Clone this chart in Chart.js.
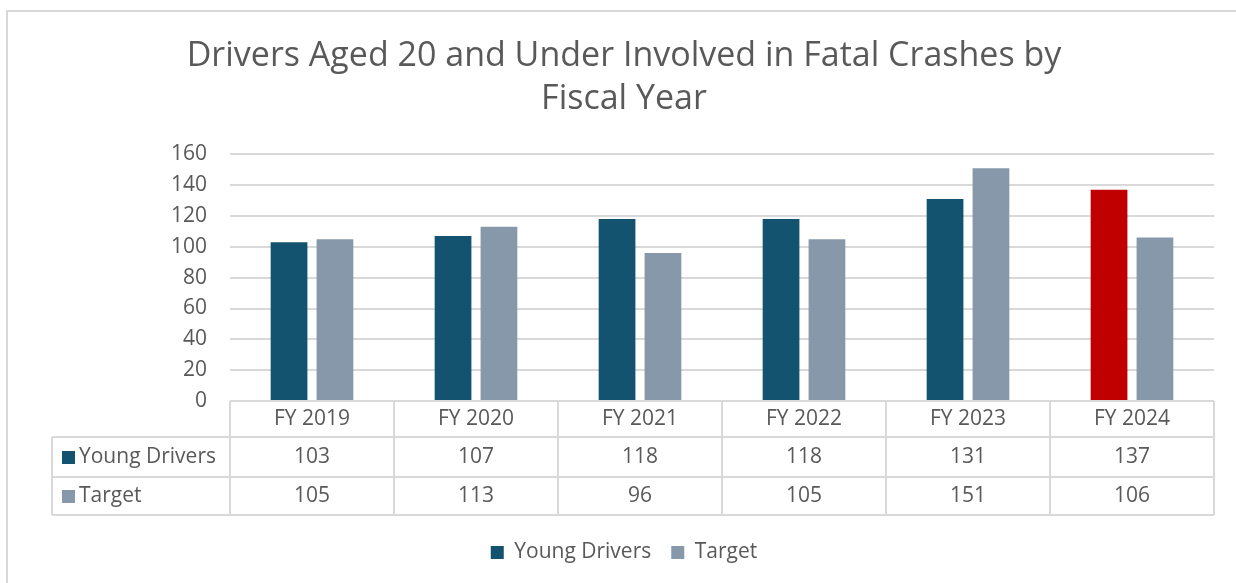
<!DOCTYPE html>
<html>
<head>
<meta charset="utf-8">
<script src="https://cdn.jsdelivr.net/npm/chart.js@4"></script>
<style>
  body { margin: 0; background: #fff; }
  #wrap { position: relative; width: 1236px; height: 583px; overflow: hidden; }
  #frame { position: absolute; left: 6px; top: 10px; width: 1260px; height: 600px;
           border-left: 2px solid #d9d9d9; border-top: 2px solid #d9d9d9; }
  canvas { position: absolute; left: 0; top: 0; }
</style>
</head>
<body>
<div id="wrap">
  <div id="frame"></div>
  <canvas id="chart" width="1236" height="583"></canvas>
</div>
<script>
var years = ['FY 2019', 'FY 2020', 'FY 2021', 'FY 2022', 'FY 2023', 'FY 2024'];
var young_drivers = [103, 107, 118, 118, 131, 137];
var target = [105, 113, 96, 105, 151, 106];
var y_ticks = [0, 20, 40, 60, 80, 100, 120, 140, 160];

var dark = '#14536f';
var grey = '#8798aa';
var red = '#c00000';
var text_color = '#595959';
var line_color = '#d9d9d9';
var font_family = '"Open Sans", "Noto Sans", sans-serif';
var font_size = 21;

var row_h = [36, 40, 38];   // header row, young drivers row, target row
var table_gap = 7;          // empty space between table and legend
var label_col_left = 52;
var pad_left = 34;

// young drivers bars: last one highlighted in red
var young_colors = young_drivers.map(function (v, i) {
    return i == young_drivers.length - 1 ? red : dark;
});

var tablePlugin = {
    id: 'dataTable',
    afterDraw: function (chart) {
        var ctx = chart.ctx;
        var xs = chart.scales.x;
        var area = chart.chartArea;
        var top = area.bottom;
        var step = (area.right - area.left) / years.length;
        var y1 = top + row_h[0];
        var y2 = y1 + row_h[1];
        var y3 = y2 + row_h[2];

        ctx.save();
        ctx.strokeStyle = line_color;
        ctx.lineWidth = 2;
        ctx.beginPath();
        // horizontal lines
        ctx.moveTo(area.left, top); ctx.lineTo(area.right, top);
        ctx.moveTo(label_col_left, y1); ctx.lineTo(area.right, y1);
        ctx.moveTo(label_col_left, y2); ctx.lineTo(area.right, y2);
        ctx.moveTo(label_col_left, y3); ctx.lineTo(area.right, y3);
        // vertical lines
        ctx.moveTo(label_col_left, y1); ctx.lineTo(label_col_left, y3);
        for (let i = 0; i <= years.length; i++) {
            var x = area.left + i * step;
            ctx.moveTo(x, top); ctx.lineTo(x, y3);
        }
        ctx.stroke();

        ctx.fillStyle = text_color;
        ctx.font = font_size + 'px ' + font_family;
        ctx.textAlign = 'center';
        ctx.textBaseline = 'middle';
        for (let i = 0; i < years.length; i++) {
            var cx = xs.getPixelForValue(i);
            ctx.fillText(years[i], cx, top + row_h[0] / 2);
            ctx.fillText(String(young_drivers[i]), cx, y1 + row_h[1] / 2);
            ctx.fillText(String(target[i]), cx, y2 + row_h[2] / 2);
        }

        // row labels with colour keys
        var rows = [['Young Drivers', dark, y1 + row_h[1] / 2], ['Target', grey, y2 + row_h[2] / 2]];
        ctx.textAlign = 'left';
        rows.forEach(function (r) {
            ctx.fillStyle = r[1];
            ctx.fillRect(62, r[2] - 6, 13, 13);
            ctx.fillStyle = text_color;
            ctx.fillText(r[0], 79, r[2]);
        });
        ctx.restore();
    }
};

var data = {
    labels: years,
    datasets: [{
        label: 'Young Drivers',
        data: young_drivers,
        backgroundColor: young_colors,
        categoryPercentage: 0.56,
        barPercentage: 0.8
    }, {
        label: 'Target',
        data: target,
        backgroundColor: grey,
        categoryPercentage: 0.56,
        barPercentage: 0.8
    }]
};

var config = {
    type: 'bar',
    data: data,
    plugins: [tablePlugin],
    options: {
        responsive: false,
        animation: false,
        layout: {
            padding: { top: 35, right: 22, bottom: 10, left: pad_left }
        },
        scales: {
            x: {
                grid: { display: false },
                border: { display: false },
                ticks: { display: false },
                afterFit: function (scale) {
                    scale.height = row_h[0] + row_h[1] + row_h[2] + table_gap;
                }
            },
            y: {
                min: 0,
                max: 160,
                afterBuildTicks: function (scale) {
                    scale.ticks = y_ticks.map(function (v) { return { value: v }; });
                },
                afterFit: function (scale) {
                    scale.width = 230 - pad_left;
                },
                grid: { color: line_color, lineWidth: 2, drawTicks: false },
                border: { display: false },
                ticks: {
                    color: text_color,
                    padding: 23,
                    font: { size: font_size, family: font_family }
                }
            }
        },
        plugins: {
            title: {
                display: true,
                text: ['Drivers Aged 20 and Under Involved in Fatal Crashes by', 'Fiscal Year'],
                color: text_color,
                font: { size: 34, family: font_family, weight: 'normal', lineHeight: 1.27 },
                padding: { top: 0, bottom: 33 }
            },
            legend: {
                position: 'bottom',
                labels: {
                    color: text_color,
                    boxWidth: 13,
                    boxHeight: 13,
                    padding: 20,
                    font: { size: font_size, family: font_family },
                    generateLabels: function (chart) {
                        return [
                            { text: 'Young Drivers', fillStyle: dark, strokeStyle: dark, lineWidth: 0, fontColor: text_color, datasetIndex: 0 },
                            { text: 'Target', fillStyle: grey, strokeStyle: grey, lineWidth: 0, fontColor: text_color, datasetIndex: 1 }
                        ];
                    }
                }
            },
            tooltip: { enabled: false }
        }
    }
};

new Chart(document.getElementById('chart'), config);
</script>
</body>
</html>
